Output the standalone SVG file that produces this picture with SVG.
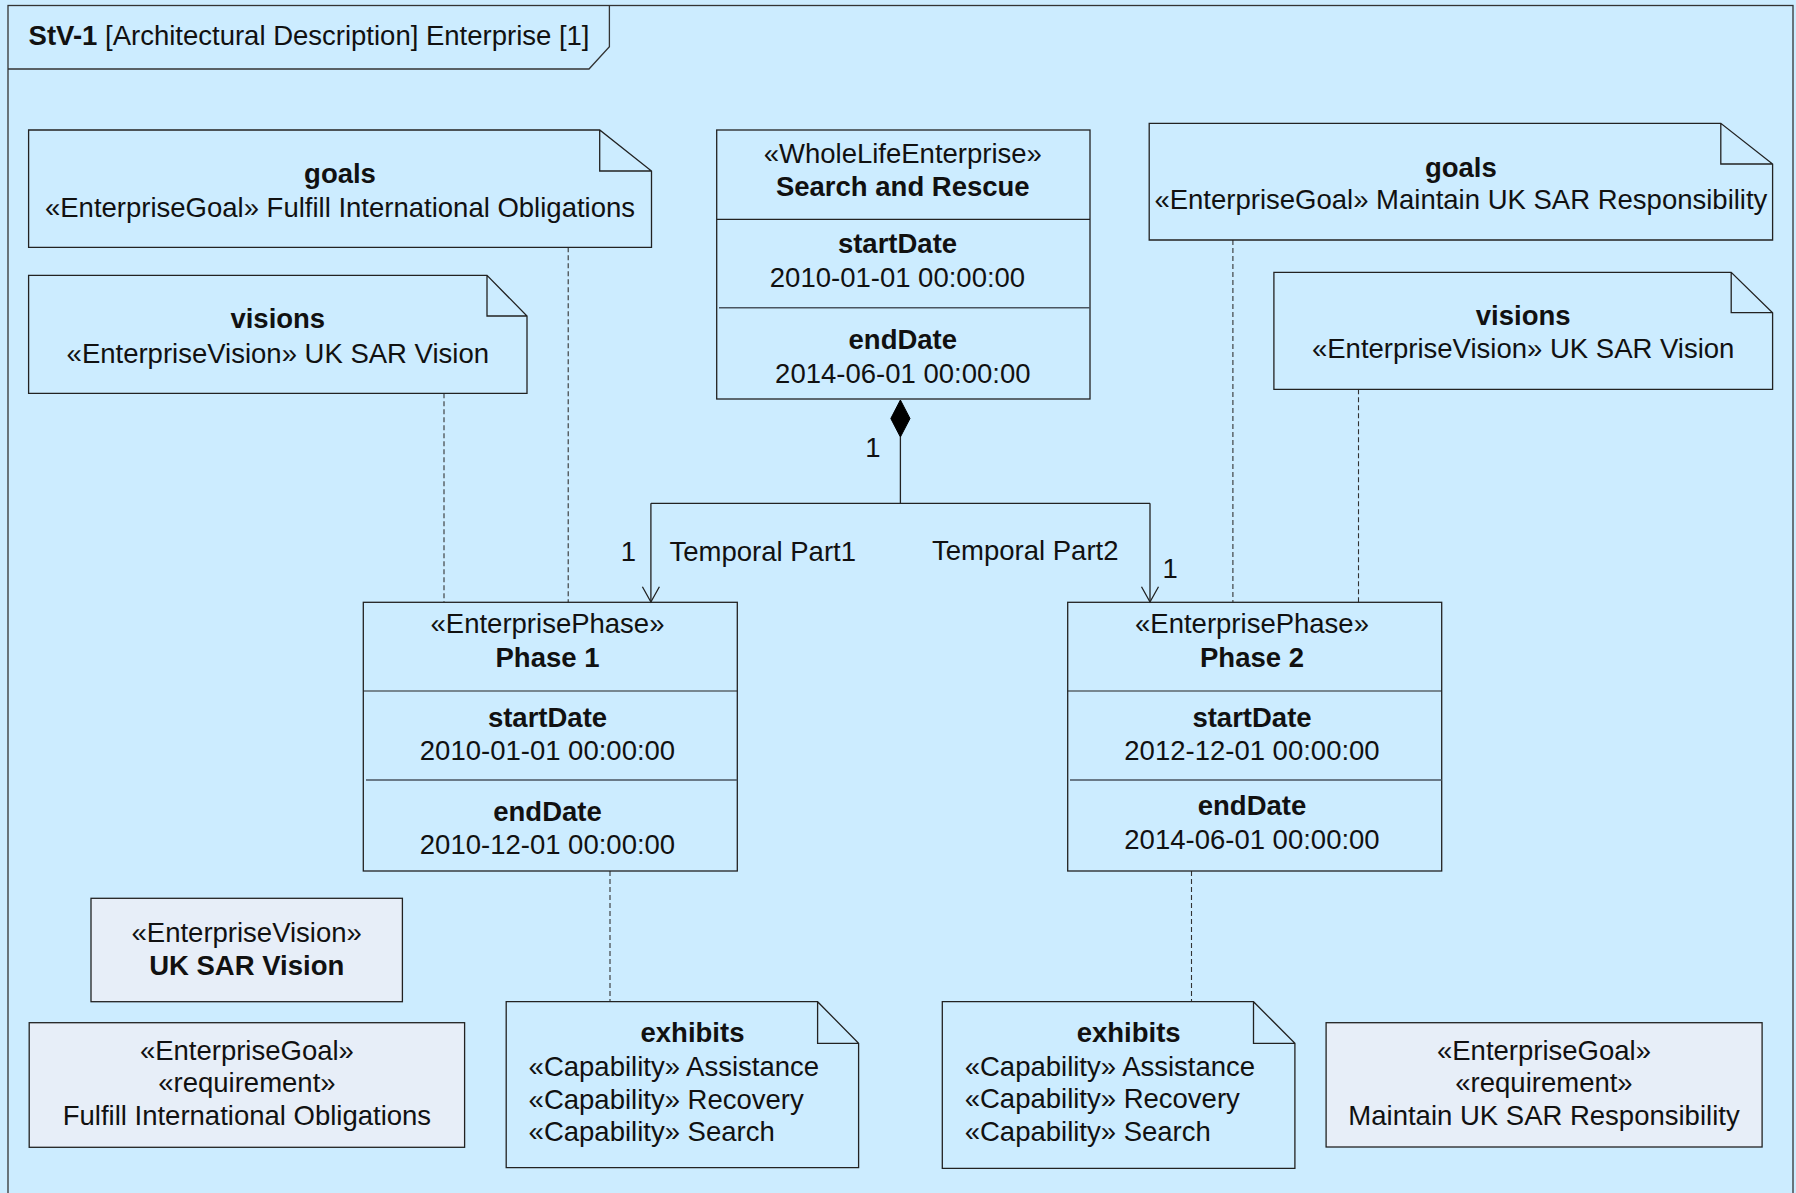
<svg xmlns="http://www.w3.org/2000/svg" width="1796" height="1193" viewBox="0 0 1796 1193">
<style>
.t{font-family:"Liberation Sans",Arial,sans-serif;font-size:27.5px;fill:#111}
.b{font-weight:bold}
.m{text-anchor:middle}
.box{fill:none;stroke:#222;stroke-width:1.3}
.sbox{fill:#E7EEF8;stroke:#222;stroke-width:1.3}
.div{stroke:#222;stroke-width:1.2}
.div2{stroke:#4a5560;stroke-width:1.4}
.note{fill:none;stroke:#222;stroke-width:1.3;stroke-linejoin:miter}
.dash{stroke:#333;stroke-width:1.1;stroke-dasharray:5,3;fill:none}
.line{stroke:#222;stroke-width:1.3;fill:none}
</style>
<rect x="0" y="0" width="1796" height="1193" fill="#CCECFF"/>
<g id="frame">
<rect x="8" y="5.5" width="1785" height="1200" fill="none" stroke="#333" stroke-width="1.3"/>
<path d="M8,69 H589 L609.4,46.7 V5.5" fill="none" stroke="#333" stroke-width="1.3"/>
<text class="t" x="28.6" y="45"><tspan class="b">StV-1</tspan> [Architectural Description] Enterprise [1]</text>
</g>
<g id="connectors">
<path class="dash" d="M568.2,247.3 V602.3"/>
<path class="dash" d="M444,393.3 V602.3"/>
<path class="dash" d="M1232.9,240 V602.3"/>
<path class="dash" d="M1358.5,389.3 V602.3"/>
<path class="dash" d="M610,871 V1001.7"/>
<path class="dash" d="M1191.5,871 V1001.7"/>
<polygon points="900.4,400 910,418.5 900.4,437 890.8,418.5" fill="#000" stroke="#000" stroke-width="1"/>
<path class="line" d="M900.4,437 V503.3 M650.9,503.3 H1150 M650.9,503.3 V602 M1150,503.3 V602"/>
<polyline class="line" points="642.4,586.7 650.9,602 659.4,586.7"/>
<polyline class="line" points="1141.5,586.7 1150,602 1158.5,586.7"/>
<text class="t" x="865.3" y="456.7">1</text>
<text class="t" x="620.7" y="560.7">1</text>
<text class="t" x="669.5" y="560.7">Temporal Part1</text>
<text class="t" x="932" y="559.5">Temporal Part2</text>
<text class="t" x="1162.6" y="578.3">1</text>
</g>
<g id="goals1">
<path class="note" d="M28.6,130 H599.7 L651.5,171 V247.3 H28.6 Z M599.7,130 V171 H651.5"/>
<text class="t b m" x="340" y="183.3">goals</text>
<text class="t m" x="340" y="216.7">«EnterpriseGoal» Fulfill International Obligations</text>
</g>
<g id="visions1">
<path class="note" d="M28.6,275.3 H487 L527,316 V393.3 H28.6 Z M487,275.3 V316 H527"/>
<text class="t b m" x="277.8" y="328">visions</text>
<text class="t m" x="277.8" y="362.7">«EnterpriseVision» UK SAR Vision</text>
</g>
<g id="goals2">
<path class="note" d="M1149.2,123.3 H1720.8 L1772.6,164 V240 H1149.2 Z M1720.8,123.3 V164 H1772.6"/>
<text class="t b m" x="1460.9" y="176.7">goals</text>
<text class="t m" x="1460.9" y="209.3">«EnterpriseGoal» Maintain UK SAR Responsibility</text>
</g>
<g id="visions2">
<path class="note" d="M1273.9,272.3 H1731.2 L1772.6,312.7 V389.3 H1273.9 Z M1731.2,272.3 V312.7 H1772.6"/>
<text class="t b m" x="1523.2" y="325">visions</text>
<text class="t m" x="1523.2" y="358.3">«EnterpriseVision» UK SAR Vision</text>
</g>
<g id="searchAndRescue">
<rect class="box" x="716.7" y="130" width="373.3" height="269"/>
<line class="div" x1="716.7" y1="219.3" x2="1090" y2="219.3"/>
<line class="div2" x1="719" y1="307.7" x2="1090" y2="307.7"/>
<text class="t m" x="902.8" y="162.7">«WholeLifeEnterprise»</text>
<text class="t b m" x="902.8" y="196">Search and Rescue</text>
<text class="t b m" x="897.5" y="253.3">startDate</text>
<text class="t m" x="897.5" y="286.7">2010-01-01 00:00:00</text>
<text class="t b m" x="902.8" y="349.3">endDate</text>
<text class="t m" x="902.8" y="382.7">2014-06-01 00:00:00</text>
</g>
<g id="phase1">
<rect class="box" x="363.3" y="602.3" width="374" height="268.7"/>
<line class="div" x1="363.3" y1="691" x2="737.3" y2="691"/>
<line class="div2" x1="366" y1="780" x2="737.3" y2="780"/>
<text class="t m" x="547.5" y="633.3">«EnterprisePhase»</text>
<text class="t b m" x="547.5" y="667.3">Phase 1</text>
<text class="t b m" x="547.5" y="726.7">startDate</text>
<text class="t m" x="547.5" y="760">2010-01-01 00:00:00</text>
<text class="t b m" x="547.5" y="820.7">endDate</text>
<text class="t m" x="547.5" y="854">2010-12-01 00:00:00</text>
</g>
<g id="phase2">
<rect class="box" x="1067.7" y="602.3" width="374" height="268.7"/>
<line class="div" x1="1067.7" y1="691" x2="1441.7" y2="691"/>
<line class="div2" x1="1070" y1="780" x2="1441.7" y2="780"/>
<text class="t m" x="1252" y="633.3">«EnterprisePhase»</text>
<text class="t b m" x="1252" y="667.3">Phase 2</text>
<text class="t b m" x="1252" y="726.7">startDate</text>
<text class="t m" x="1252" y="760">2012-12-01 00:00:00</text>
<text class="t b m" x="1252" y="815">endDate</text>
<text class="t m" x="1252" y="849.3">2014-06-01 00:00:00</text>
</g>
<g id="ukSarVision">
<rect class="sbox" x="91" y="898.3" width="311.4" height="103.4"/>
<text class="t m" x="246.7" y="941.7">«EnterpriseVision»</text>
<text class="t b m" x="246.7" y="975">UK SAR Vision</text>
</g>
<g id="goalFulfill">
<rect class="sbox" x="29.2" y="1022.7" width="435.4" height="124.6"/>
<text class="t m" x="246.9" y="1060">«EnterpriseGoal»</text>
<text class="t m" x="246.9" y="1092">«requirement»</text>
<text class="t m" x="246.9" y="1125">Fulfill International Obligations</text>
</g>
<g id="exhibits1">
<path class="note" d="M506.2,1001.7 H817.6 L858.6,1043.3 V1167.7 H506.2 Z M817.6,1001.7 V1043.3 H858.6"/>
<text class="t b m" x="692.5" y="1041.7">exhibits</text>
<text class="t" x="528.6" y="1076">«Capability» Assistance</text>
<text class="t" x="528.6" y="1108.7">«Capability» Recovery</text>
<text class="t" x="528.6" y="1141">«Capability» Search</text>
</g>
<g id="exhibits2">
<path class="note" d="M942.3,1001.7 H1253.5 L1294.9,1043.3 V1168.3 H942.3 Z M1253.5,1001.7 V1043.3 H1294.9"/>
<text class="t b m" x="1128.7" y="1041.7">exhibits</text>
<text class="t" x="964.7" y="1076">«Capability» Assistance</text>
<text class="t" x="964.7" y="1108.3">«Capability» Recovery</text>
<text class="t" x="964.7" y="1141">«Capability» Search</text>
</g>
<g id="goalMaintain">
<rect class="sbox" x="1326.1" y="1022.7" width="436" height="124.3"/>
<text class="t m" x="1544" y="1060">«EnterpriseGoal»</text>
<text class="t m" x="1544" y="1092">«requirement»</text>
<text class="t m" x="1544" y="1125">Maintain UK SAR Responsibility</text>
</g>
</svg>
